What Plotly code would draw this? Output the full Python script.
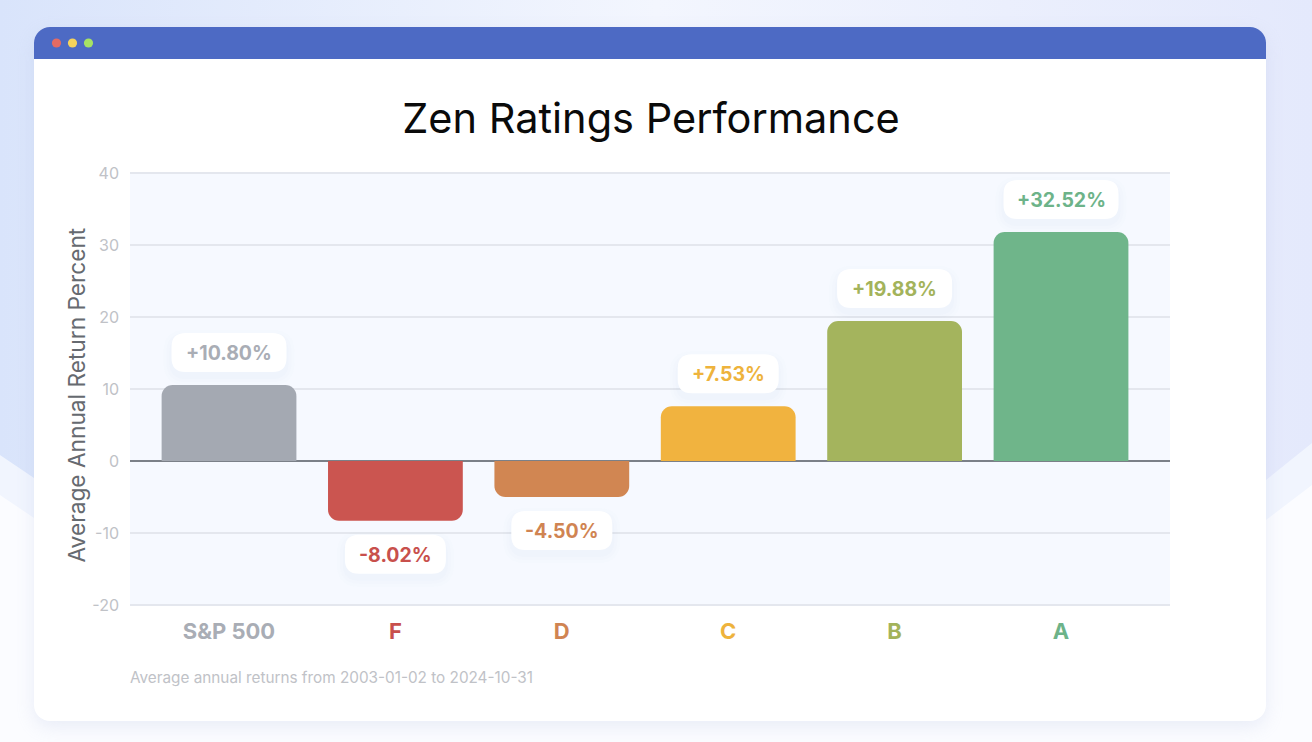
import urllib.parse
import plotly.graph_objects as go

categories = ["S&P 500", "F", "D", "C", "B", "A"]
bar_values = [10.55, -8.3, -5.0, 7.6, 19.45, 31.8]
value_labels = ["+10.80%", "-8.02%", "-4.50%", "+7.53%", "+19.88%", "+32.52%"]
bar_colors = ["#a4a9b2", "#cb5550", "#d18652", "#f1b33f", "#a4b45d", "#6fb58a"]
label_colors = ["#a9adb5", "#c8504c", "#d08452", "#eeb33c", "#a3b35b", "#6db389"]
y_ticks = [-20, -10, 0, 10, 20, 30, 40]
y_tick_labels = ["-20", "-10", "0", "10", "20", "30", "40"]

W, H = 1312, 742
FONT = "Inter"
LIGHT = "Inter"
GRID = "#e4e7ee"

svg = f'''<svg xmlns="http://www.w3.org/2000/svg" width="{W}" height="{H}" viewBox="0 0 {W} {H}">
<defs>
<linearGradient id="g" x1="0" y1="0" x2="1" y2="0">
<stop offset="0" stop-color="#d9e4fb"/><stop offset="0.5" stop-color="#f3f6fe"/><stop offset="1" stop-color="#e4e9fc"/>
</linearGradient>
<filter id="s" x="-5%" y="-5%" width="110%" height="110%"><feGaussianBlur stdDeviation="9"/></filter>
</defs>
<rect width="{W}" height="{H}" fill="url(#g)"/>
<path d="M0 455 L34 478 Q656 -40 1266 480 L1312 443 V742 H0 Z" fill="#f1f5fe"/>
<path d="M0 495 L34 518 Q656 0 1266 520 L1312 485 V742 H0 Z" fill="#fbfcff"/>
<rect x="34" y="33" width="1232" height="694" rx="16" fill="#a9b6dc" opacity="0.22" filter="url(#s)"/>
<rect x="34" y="27" width="1232" height="694" rx="16" fill="#ffffff"/>
<path d="M34 59 V43 A16 16 0 0 1 50 27 H1250 A16 16 0 0 1 1266 43 V59 Z" fill="#4d6ac4"/>
<circle cx="56.5" cy="43" r="4.6" fill="#e56b63"/>
<circle cx="72.5" cy="43" r="4.6" fill="#f5d35c"/>
<circle cx="88.5" cy="43" r="4.6" fill="#a6e364"/>
</svg>'''
bg_uri = "data:image/svg+xml," + urllib.parse.quote(svg)


def pill(cat_index, value, offset, half_w, half_h=19.5, r=14, dy=0, fill="#ffffff", layer="above"):
    """Rounded label box placed `offset` pixels away from the bar end."""
    cy = offset + dy
    t, b = cy + half_h, cy - half_h
    l, rr = -half_w, half_w
    path = (f"M {l + r} {t} L {rr - r} {t} Q {rr} {t} {rr} {t - r} L {rr} {b + r} Q {rr} {b} {rr - r} {b} "
            f"L {l + r} {b} Q {l} {b} {l} {b + r} L {l} {t - r} Q {l} {t} {l + r} {t} Z")
    return dict(type="path", xref="x", yref="y", xsizemode="pixel", ysizemode="pixel",
                xanchor=cat_index, yanchor=value, path=path, fillcolor=fill,
                line=dict(width=0), layer=layer)


shapes = [dict(type="rect", xref="x domain", yref="y", x0=0, x1=1, y0=y_ticks[0], y1=y_ticks[-1],
               fillcolor="#f6f9ff", line=dict(width=0), layer="below")]

annotations = []
for i, (v, lab, col) in enumerate(zip(bar_values, value_labels, label_colors)):
    off = 32.5 if v > 0 else -33.5
    half_w = 57.5 if len(lab) >= 7 else 50.5
    for grow, a in ((8, 0.012), (5, 0.016), (2, 0.02)):
        shapes.append(pill(i, v, off, half_w + grow, 19.5 + grow, 14 + grow, dy=-5,
                           fill=f"rgba(120,140,190,{a})"))
    shapes.append(pill(i, v, off, half_w))
    annotations.append(dict(x=i, y=v, xref="x", yref="y", text=f"<b>{lab}</b>", showarrow=False,
                            yshift=off - 0.5, xanchor="center", yanchor="middle",
                            font=dict(family=FONT, size=19.5, color=col)))

annotations.append(dict(x=128 / W, y=1 - 677 / H, xref="paper", yref="paper", xanchor="left", yanchor="middle",
                        text="Average annual returns from 2003-01-02 to 2024-10-31", showarrow=False,
                        font=dict(family=LIGHT, size=15.3, color="#c0c2c7")))
annotations.append(dict(x=76 / W, y=1 - 395.5 / H, xref="paper", yref="paper", xanchor="center", yanchor="middle",
                        text="Average Annual Return Percent", showarrow=False, textangle=-90,
                        font=dict(family=LIGHT, size=22.7, color="#666a70")))

fig = go.Figure(go.Bar(x=categories, y=bar_values, marker=dict(color=bar_colors, line=dict(width=0)),
                       width=0.81, hoverinfo="skip"))

fig.update_layout(
    width=W, height=H, margin=dict(l=0, r=0, t=0, b=0), autosize=False,
    paper_bgcolor="#ffffff", plot_bgcolor="rgba(0,0,0,0)", showlegend=False, barcornerradius=11,
    title=dict(text="Zen Ratings Performance", x=651 / W, y=1 - 118 / H, xanchor="center", yanchor="middle",
               font=dict(family=FONT, size=41.5, color="#0a0a0a")),
    images=[dict(source=bg_uri, xref="paper", yref="paper", x=0, y=1, sizex=1, sizey=1,
                 xanchor="left", yanchor="top", sizing="stretch", layer="below")],
    shapes=shapes, annotations=annotations,
    xaxis=dict(domain=[130 / W, 1170 / W], range=[-0.595, 5.655], type="category", showgrid=False,
               zeroline=False, showline=False, ticks="", tickmode="array",
               tickvals=categories,
               ticktext=[f'<b><span style="color:{c}">{n}</span></b>' for n, c in zip(categories, label_colors)],
               tickfont=dict(family=FONT, size=22), ticklabelstandoff=8, automargin=False),
    yaxis=dict(domain=[1 - 608 / H, 1 - 170 / H], range=[-20.4167, 40.4167], tickmode="array",
               tickvals=y_ticks, ticktext=y_tick_labels, showgrid=True,
               gridcolor=GRID, gridwidth=2, zeroline=True, zerolinecolor="#7b8088", zerolinewidth=2,
               showline=False, ticks="", tickfont=dict(family=LIGHT, size=16, color="#c0c2c7"),
               ticklabelstandoff=10, automargin=False),
)

fig.write_html("out.html", config={"displayModeBar": False},
               post_script="document.body.style.margin='0';document.body.style.overflow='hidden';")
